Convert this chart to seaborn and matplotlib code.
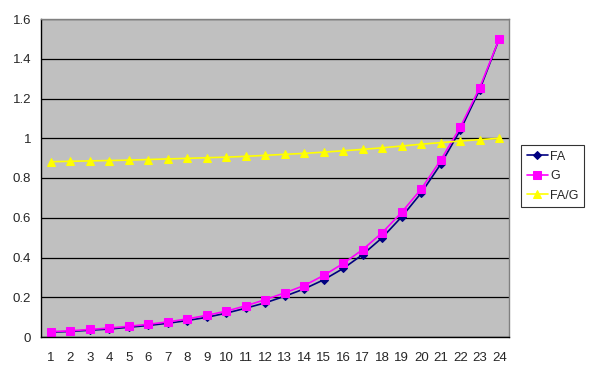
import matplotlib
matplotlib.use("Agg")
import matplotlib.pyplot as plt
import seaborn as sns
import pandas as pd
import numpy as np

periods = list(range(1, 25))
fa = [0.024, 0.028, 0.034, 0.040, 0.049, 0.058, 0.069, 0.083, 0.099, 0.120, 0.145, 0.172,
      0.205, 0.242, 0.288, 0.345, 0.415, 0.500, 0.605, 0.725, 0.870, 1.040, 1.245, 1.500]
g = [0.027, 0.031, 0.038, 0.045, 0.054, 0.064, 0.076, 0.091, 0.109, 0.130, 0.157, 0.188,
     0.222, 0.259, 0.310, 0.370, 0.440, 0.525, 0.628, 0.745, 0.890, 1.055, 1.255, 1.500]
fa_g = [0.882, 0.884, 0.886, 0.888, 0.890, 0.893, 0.896, 0.899, 0.902, 0.905, 0.909, 0.914,
        0.919, 0.924, 0.930, 0.937, 0.944, 0.952, 0.961, 0.970, 0.978, 0.986, 0.993, 1.000]
series_names = ["FA", "G", "FA/G"]
y_ticks = [0, 0.2, 0.4, 0.6, 0.8, 1, 1.2, 1.4, 1.6]
y_tick_labels = ["0", "0.2", "0.4", "0.6", "0.8", "1", "1.2", "1.4", "1.6"]

sns.set_style("white")
plt.rcParams['font.family'] = ['Liberation Sans', 'DejaVu Sans']

df = pd.DataFrame({
    "x": periods * 3,
    "value": fa + g + fa_g,
    "series": [series_names[0]] * 24 + [series_names[1]] * 24 + [series_names[2]] * 24,
})

fig = plt.figure(figsize=(5.89, 3.89), dpi=100)
ax = fig.add_axes([41 / 589, 1 - 337 / 389, 468 / 589, 318 / 389])
ax.set_facecolor("#C0C0C0")

palette = {"FA": "#000080", "G": "#FF00FF", "FA/G": "#FFFF00"}
markers = {"FA": "D", "G": "s", "FA/G": "^"}
sizes = {"FA": 4, "G": 6, "FA/G": 6}
for name in series_names:
    sub = df[df["series"] == name]
    sns.lineplot(data=sub, x="x", y="value", ax=ax, color=palette[name],
                 marker=markers[name], markersize=sizes[name],
                 markeredgecolor=palette[name], linewidth=1.2, label=name)

ax.set_xlim(0.5, 24.5)
ax.set_ylim(0, 1.6)
ax.set_yticks(y_ticks)
ax.set_yticklabels(y_tick_labels)
ax.set_xticks(periods)
ax.set_xticklabels([str(p) for p in periods])
ax.set_xticks(np.arange(0.5, 25, 1), minor=True)
ax.tick_params(axis="x", which="major", length=0, labelsize=9.5, pad=11)
ax.tick_params(axis="x", which="minor", length=4, width=0.8, color="black", direction="out")
ax.tick_params(axis="y", which="major", length=4, width=0.8, color="black", labelsize=9.5,
               direction="out", pad=3)
ax.set_xlabel("")
ax.set_ylabel("")
ax.grid(axis="y", color="black", linewidth=0.9)
ax.set_axisbelow(True)
for s in ["top", "right"]:
    ax.spines[s].set_color("#808080")
    ax.spines[s].set_linewidth(1)
for s in ["left", "bottom"]:
    ax.spines[s].set_color("black")
    ax.spines[s].set_linewidth(1)

leg = ax.legend(loc="upper left", bbox_to_anchor=(521 / 589, 1 - 145 / 389),
                bbox_transform=fig.transFigure, frameon=True, fancybox=False,
                fontsize=9, handlelength=1.7, handletextpad=0.2, borderpad=0.45,
                labelspacing=0.6, borderaxespad=0)
leg.get_frame().set_edgecolor("black")
leg.get_frame().set_linewidth(0.8)

fig.savefig("out.png", dpi=100)
